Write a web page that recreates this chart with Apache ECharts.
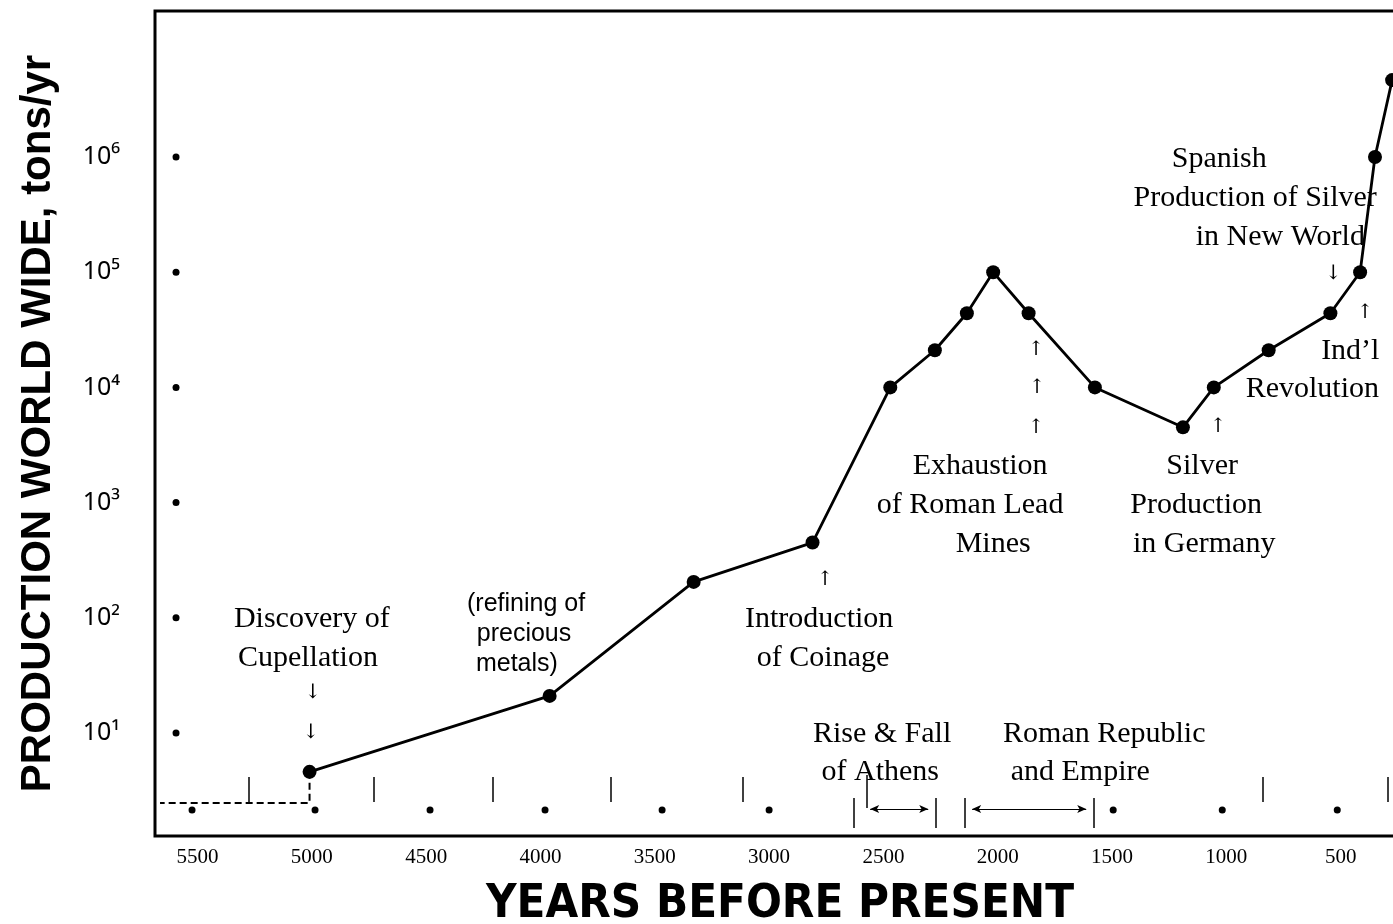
<!DOCTYPE html>
<html>
<head>
<meta charset="utf-8">
<script src="https://cdn.jsdelivr.net/npm/echarts@6/dist/echarts.min.js"></script>
<style>
  html, body { margin: 0; padding: 0; background: #fff; }
  #chart { width: 1393px; height: 924px; }
</style>
</head>
<body>
<div id="chart"></div>
<script>
// lead production (years before present, tons/yr)
var years = [5010, 3960, 3330, 2810, 2470, 2275, 2135, 2020, 1865, 1575, 1190, 1055, 815, 545, 415, 350, 275];
var tons = [4.6, 21, 205, 450, 10000, 21000, 44000, 100000, 44000, 10000, 4500, 10000, 21000, 44000, 100000, 1000000, 4650000];

// dashed background level before cupellation
var baseYears = [5010, 5010, 5664];
var baseTons = [4.6, 2.47, 2.47];

// decade ticks (dots beside the y axis) and the small dots along the bottom
var decades = [10, 100, 1000, 10000, 100000, 1000000];
var decadeDotYear = 5594;
var bottomDotYears = [5524, 4986, 4483, 3980, 3468, 3000, 1495, 1018, 515];
var bottomDotLevel = 2.15;

// short vertical marks along the bottom
var markYears = [5275, 4728, 4208, 3691, 3114, 839, 292];
var markRange = [2.52, 4.15];

// period brackets: Athens and Roman Republic
var bracketYears = [2628, 2269, 2143, 1578];
var bracketRange = [1.5, 2.73];
var athensTickYear = 2571;
var athensTickRange = [2.23, 4.32];
var periods = [[2558, 2304], [2112, 1613]];
var periodLevel = 2.19;

// annotations: [year, tons, text]
var serifNotes = [
  [5000, 97.7, 'Discovery of'],
  [5017, 44.8, 'Cupellation'],
  [2781, 97.7, 'Introduction'],
  [2764, 44.8, 'of Coinage'],
  [2506, 9.8, 'Rise & Fall'],
  [2514, 4.58, 'of Athens'],
  [1534, 9.8, 'Roman Republic'],
  [1639, 4.58, 'and Empire'],
  [2077, 2080, 'Exhaustion'],
  [2121, 953, 'of Roman Lead'],
  [2020, 437, 'Mines'],
  [1106, 2080, 'Silver'],
  [1132, 953, 'Production'],
  [1097, 437, 'in Germany'],
  [1031, 960000, 'Spanish'],
  [874, 441000, 'Production of Silver'],
  [764, 202000, 'in New World'],
  [458, 20700, 'Ind\u2019l'],
  [624, 9690, 'Revolution']
];
var sansNotes = [
  [4063, 132, '(refining of'],
  [4072, 72.3, 'precious'],
  [4103, 39.7, 'metals)']
];
var arrowNotes = [
  [4995, 22.2, '\u2193'],
  [5004, 10, '\u2193'],
  [2755, 213, '\u2191'],
  [1832, 21100, '\u2191'],
  [1828, 9900, '\u2191'],
  [1832, 4450, '\u2191'],
  [1036, 4530, '\u2191'],
  [532, 96000, '\u2193'],
  [393, 44200, '\u2191']
];

var sup = ['\u2070', '\u00b9', '\u00b2', '\u00b3', '\u2074', '\u2075', '\u2076', '\u2077'];

function notesData(list) {
  return list.map(function (n) { return { name: n[2], value: [n[0], n[1]] }; });
}

function noteSeries(list, font, size) {
  return {
    type: 'scatter',
    data: notesData(list),
    symbolSize: 0,
    silent: true,
    z: 5,
    itemStyle: { color: '#000', opacity: 1 },
    label: {
      show: true,
      position: 'inside',
      formatter: '{b}',
      color: '#000',
      fontFamily: font,
      fontSize: size,
      align: 'center',
      verticalAlign: 'middle'
    }
  };
}

var chart = echarts.init(document.getElementById('chart'));

var vertMarks = markYears.map(function (y) {
  return [{ coord: [y, markRange[0]] }, { coord: [y, markRange[1]] }];
});
bracketYears.forEach(function (y) {
  vertMarks.push([{ coord: [y, bracketRange[0]] }, { coord: [y, bracketRange[1]] }]);
});
vertMarks.push([{ coord: [athensTickYear, athensTickRange[0]] }, { coord: [athensTickYear, athensTickRange[1]] }]);

var periodArrows = periods.map(function (p) {
  return [{ coord: [p[0], periodLevel] }, { coord: [p[1], periodLevel] }];
});

chart.setOption({
  animation: false,
  backgroundColor: '#fff',
  grid: {
    left: 155,
    right: -62,
    top: 11,
    bottom: 88,
    show: true,
    borderColor: '#000',
    borderWidth: 3,
    containLabel: false,
    outerBoundsMode: 'none'
  },
  xAxis: {
    type: 'value',
    inverse: true,
    min: 0,
    max: 5686,
    interval: 500,
    name: 'YEARS BEFORE PRESENT',
    nameLocation: 'middle',
    nameGap: 45,
    nameTextStyle: {
      fontFamily: '"Liberation Sans Narrow", "DejaVu Sans Condensed", sans-serif',
      fontWeight: 'bold',
      fontSize: 47,
      color: '#000',
      padding: [0, 50, 0, 0]
    },
    axisLine: { show: false },
    axisTick: { show: false },
    splitLine: { show: false },
    axisLabel: {
      showMaxLabel: false,
      color: '#000',
      fontFamily: '"Liberation Serif", serif',
      fontSize: 21,
      margin: 11,
      formatter: function (v) { return String(v); }
    }
  },
  yAxis: {
    type: 'log',
    logBase: 10,
    min: 1.276,
    max: 1.851e7,
    name: 'PRODUCTION WORLD WIDE, tons/yr',
    nameLocation: 'middle',
    nameGap: 96,
    nameTextStyle: {
      fontFamily: '"Liberation Sans", sans-serif',
      fontWeight: 'bold',
      fontSize: 42,
      color: '#000'
    },
    axisLine: { show: false },
    axisTick: { show: false },
    splitLine: { show: false },
    minorTick: { show: false },
    axisLabel: {
      customValues: decades,
      color: '#000',
      fontFamily: '"Noto Sans", sans-serif',
      fontSize: 25,
      margin: 35,
      formatter: function (v) {
        return '10' + sup[Math.round(Math.log10(v))];
      }
    }
  },
  series: [
    {
      name: 'production',
      type: 'line',
      data: years.map(function (y, i) { return [y, tons[i]]; }),
      symbol: 'circle',
      symbolSize: 14,
      lineStyle: { color: '#000', width: 2.8 },
      itemStyle: { color: '#000' },
      z: 4
    },
    {
      name: 'base',
      type: 'line',
      data: baseYears.map(function (y, i) { return [y, baseTons[i]]; }),
      symbol: 'none',
      lineStyle: { color: '#000', width: 2, type: [7, 4] },
      z: 3
    },
    {
      name: 'dots',
      type: 'scatter',
      data: decades.map(function (d) { return [decadeDotYear, d]; })
        .concat(bottomDotYears.map(function (y) { return [y, bottomDotLevel]; })),
      symbol: 'circle',
      symbolSize: 7,
      itemStyle: { color: '#000', opacity: 1 },
      silent: true,
      markLine: {
        silent: true,
        symbol: 'none',
        label: { show: false },
        lineStyle: { color: '#000', width: 1.5, type: 'solid' },
        data: vertMarks
      }
    },
    {
      name: 'periods',
      type: 'line',
      data: [],
      markLine: {
        silent: true,
        symbol: ['arrow', 'arrow'],
        symbolSize: [6, 9],
        label: { show: false },
        lineStyle: { color: '#000', width: 1.2, type: 'solid' },
        data: periodArrows
      }
    },
    noteSeries(serifNotes, '"Liberation Serif", serif', 30),
    noteSeries(sansNotes, '"Liberation Sans", sans-serif', 25),
    noteSeries(arrowNotes, '"DejaVu Serif", serif', 20)
  ]
});
</script>
</body>
</html>
